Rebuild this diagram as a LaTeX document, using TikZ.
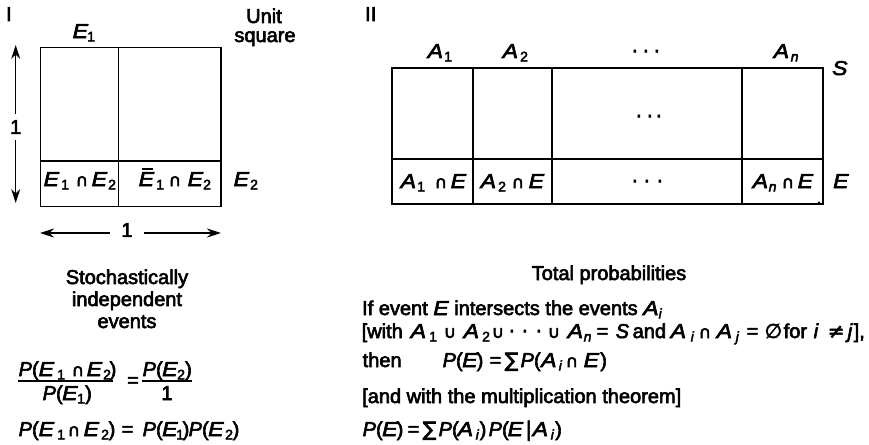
\documentclass[tikz,border=0pt]{standalone}
\usepackage{fontspec}
\setmainfont{Liberation Sans}[FakeBold=3]
\newfontfamily\symf{DejaVu Sans}[FakeBold=3]
\usetikzlibrary{arrows.meta}
\newcommand\iv[1]{\textit{#1}}
\newcommand\iw[1]{\scalebox{1.15}[1]{\itshape #1}}
\newcommand\sbx[1]{\raisebox{-3.5pt}{\fontsize{14}{14}\selectfont #1}}
\newcommand\tk[2]{\rlap{\hskip#1pt #2}\ignorespaces}
\newcommand\capg{{\symf\fontsize{17}{17}\selectfont ∩}}
\newcommand\cupg{{\symf\fontsize{17}{17}\selectfont ∪}}
\newcommand\dotg{{\symf ·}}
\newcommand\Ebar{\iw{E}\rlap{\hskip-12.5pt\rule[16.5pt]{11pt}{1.4pt}}}
\begin{document}
\begin{tikzpicture}[x=1pt,y=-1pt,
  every node/.style={inner sep=0pt, font=\fontsize{20}{22}\selectfont},
  box/.style={line width=1.4pt},
  dim/.style={line width=1.2pt, -{Stealth[length=14pt,width=9pt]}},
  lbl/.style={anchor=base},
  lft/.style={anchor=base west}]
\useasboundingbox (0,0) rectangle (869,444);
% ---------------- Panel I ----------------
\node[lft] (tI) at (6,21) {I};
\node[lbl] (unit) at (264,23) {Unit};
\node[lbl] (square) at (265,42) {square};
\node[lft] (e1) at (72,38) {\tk{0}{\iw{E}}\tk{14.5}{\sbx{1}}};
\draw[box] (40.7,47.7) rectangle (221,206.7);
\draw[box] (118.7,47.7) -- (118.7,206.7);
\draw[box] (40.7,161) -- (221,161);
\node[lft] (c1) at (43,186) {\tk{0}{\iw{E}}\tk{17.5}{\sbx{1}}\tk{32}{\capg}\tk{48}{\iw{E}}\tk{64.5}{\sbx{2}}};
\node[lft] (c2) at (138,186) {\tk{0}{\Ebar}\tk{17.5}{\sbx{1}}\tk{30}{\capg}\tk{49}{\iw{E}}\tk{64.5}{\sbx{2}}};
\node[lft] (e2) at (233,186) {\tk{0}{\iw{E}}\tk{16.5}{\sbx{2}}};
% vertical dimension
\coordinate (vt) at (15.7,45);
\coordinate (vb) at (15.7,203);
\node[fill=white, inner xsep=2pt, inner ysep=6pt] (v1) at (15.7,127) {1};
\draw[dim] (v1.north) -- (vt);
\draw[dim] (v1.south) -- (vb);
% horizontal dimension
\coordinate (hl) at (40,233);
\coordinate (hr) at (221,233);
\node[fill=white, inner xsep=11pt, inner ysep=2pt] (h1) at (127,230) {1};
\draw[dim] (h1.west |- hl) -- (hl);
\draw[dim] (h1.east |- hr) -- (hr);
\node[lbl] (st1) at (127,284) {Stochastically};
\node[lbl] (st2) at (127,306) {independent};
\node[lbl] (st3) at (127,328) {events};
% fraction equation
\node[lft] (fn1) at (18,376) {\tk{0}{\iv{P}(}\tk{20}{\iw{E}}\tk{38.5}{\sbx{1}}\tk{53}{\capg}\tk{68}{\iw{E}}\tk{84.5}{\sbx{2}}\tk{91}{)}};
\node[lft] (fd1) at (42,400) {\tk{0}{\iv{P}(}\tk{19.5}{\iw{E}}\tk{34.5}{\sbx{1}}\tk{42.5}{)}};
\draw[line width=1.1pt] (18,381) -- (113,381);
\node[lft] (feq) at (127,387) {=};
\node[lft] (fn2) at (142,376) {\tk{0}{\iv{P}(}\tk{19.5}{\iw{E}}\tk{34.5}{\sbx{2}}\tk{42.5}{)}};
\node[lbl] (fd2) at (167,400) {1};
\draw[line width=1.1pt] (142,381) -- (192,381);
\node[lft] (prod) at (18,436) {\tk{0}{\iv{P}(}\tk{20}{\iw{E}}\tk{38.5}{\sbx{1}}\tk{49}{\capg}\tk{65}{\iw{E}}\tk{82.5}{\sbx{2}}\tk{90}{)}\tk{103}{=}\tk{124}{\iv{P}(}\tk{143.5}{\iw{E}}\tk{157.5}{\sbx{1}}\tk{164}{)}\tk{170}{\iv{P}(}\tk{189.5}{\iw{E}}\tk{206.5}{\sbx{2}}\tk{214}{)}};
% ---------------- Panel II ----------------
\node[lft] (tII) at (365,21) {II};
\draw[box] (392,68) rectangle (823,204);
\draw[box] (392,159) -- (823,159);
\foreach \x in {473,552,742} \draw[box] (\x,68) -- (\x,204);
\node[lft] (a1) at (427,58) {\tk{0}{\iw{A}}\tk{16.5}{\sbx{1}}};
\node[lft] (a2) at (502,58) {\tk{0}{\iw{A}}\tk{17.5}{\sbx{2}}};
\node[lft] (adots) at (631,58) {\tk{0}{\dotg}\tk{11}{\dotg}\tk{22}{\dotg}};
\node[lft] (an) at (773,58) {\tk{0}{\iw{A}}\tk{17}{\sbx{\iv{n}}}};
\node[lft] (s) at (832,75) {\iw{S}};
\node[lft] (mdots) at (635,123) {\tk{0}{\dotg}\tk{11}{\dotg}\tk{20}{\dotg}};
\node[lft] (b1) at (400,188) {\tk{0}{\iw{A}}\tk{16.5}{\sbx{1}}\tk{34}{\capg}\tk{50}{\iw{E}}};
\node[lft] (b2) at (480,188) {\tk{0}{\iw{A}}\tk{17.5}{\sbx{2}}\tk{31}{\capg}\tk{48}{\iw{E}}};
\node[lft] (bdots) at (631,188) {\tk{0}{\dotg}\tk{12}{\dotg}\tk{25}{\dotg}};
\node[lft] (bn) at (752,188) {\tk{0}{\iw{A}}\tk{16}{\sbx{\iv{n}}}\tk{29}{\capg}\tk{45}{\iw{E}}};
\node[lft] (ee) at (833,188) {\iw{E}};
\fill (819,203) circle (1.6pt);
% text
\node[lbl] (tp) at (609,280) {Total probabilities};
\node[lft] (l1) at (362,315) {If event \iw{E} intersects the events \iw{A}\sbx{\iv{i}}};
\node[lft] (l2) at (361,338) {\tk{0}{[with}\tk{49}{\iw{A}}\tk{67.5}{\sbx{1}}\tk{82}{\cupg}\tk{102}{\iw{A}}\tk{120.5}{\sbx{2}}\tk{130}{\cupg}\tk{147}{\dotg}\tk{160}{\dotg}\tk{174}{\dotg}\tk{186}{\cupg}\tk{206}{\iw{A}}\tk{222}{\sbx{\iv{n}}}\tk{235}{=}\tk{254}{\iv{S}}\tk{271}{and}\tk{309}{\iw{A}}\tk{329}{\sbx{\iv{i}}}\tk{337}{\capg}\tk{355}{\iw{A}}\tk{374}{\sbx{\iv{j}}}\tk{385}{=}\tk{403}{{\symf ∅}}\tk{422}{for}\tk{452}{\iv{i}}\tk{466}{{\symf ≠}}\tk{486}{\iv{j}}\tk{492}{],}};
\node[lft] (l3) at (362,367) {\tk{0}{then}\tk{80}{\iv{P}(}\tk{99.5}{\iw{E}}\tk{114}{)}\tk{127}{=}\tk{142}{{\symf ∑}}\tk{158}{\iv{P}(}\tk{178.5}{\iw{A}}\tk{196}{\sbx{\iv{i}}}\tk{203}{\capg}\tk{221}{\iw{E}}\tk{237.6}{)}};
\node[lft] (l4) at (362,403) {[and with the multiplication theorem]};
\node[lft] (l5) at (362,436) {\tk{0}{\iv{P}(}\tk{19.5}{\iw{E}}\tk{34}{)}\tk{45}{=}\tk{60}{{\symf ∑}}\tk{76}{\iv{P}(}\tk{95}{\iw{A}}\tk{113}{\sbx{\iv{i}}}\tk{117}{)}\tk{126}{\iv{P}(}\tk{145}{\iw{E}}\tk{162.7}{{\symf |}}\tk{170}{\iw{A}}\tk{188}{\sbx{\iv{i}}}\tk{192.5}{)}};
\end{tikzpicture}
\end{document}
